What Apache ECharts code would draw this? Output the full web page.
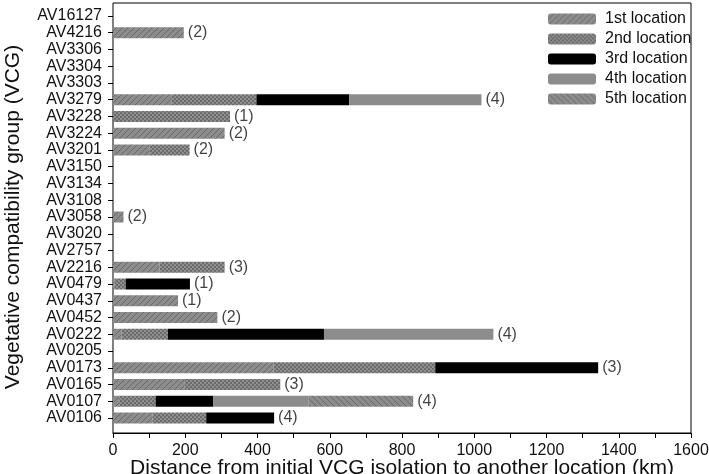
<!DOCTYPE html>
<html>
<head>
<meta charset="utf-8">
<script src="https://cdn.jsdelivr.net/npm/echarts@6/dist/echarts.min.js"></script>
<style>html,body{margin:0;padding:0;background:#fff;}#c{width:709px;height:474px;}</style>
</head>
<body>
<div id="c"></div>
<script>
const categories = ['AV16127','AV4216','AV3306','AV3304','AV3303','AV3279','AV3228','AV3224','AV3201','AV3150','AV3134','AV3108','AV3058','AV3020','AV2757','AV2216','AV0479','AV0437','AV0452','AV0222','AV0205','AV0173','AV0165','AV0107','AV0106'];
const seriesNames = ['1st location','2nd location','3rd location','4th location','5th location'];
const loc1 = [null,196,null,null,null,163,null,309,102,null,null,null,29,null,null,129,5,180,289,24,null,444,199,17,109];
const loc2 = [null,null,null,null,null,234,324,null,110,null,null,null,null,null,null,180,30,null,null,128,null,448,264,101,149];
const loc3 = [null,null,null,null,null,257,null,null,null,null,null,null,null,null,null,null,178,null,null,432,null,451,null,159,188];
const loc4 = [null,null,null,null,null,366,null,null,null,null,null,null,null,null,null,null,null,null,null,469,null,null,null,265,null];
const loc5 = [null,null,null,null,null,null,null,null,null,null,null,null,null,null,null,null,null,null,null,null,null,null,null,289,null];
const counts = [null,2,null,null,null,4,1,2,2,null,null,null,2,null,null,3,1,1,2,4,null,3,3,4,4];
const xTicks = {min:0, max:1600, interval:200};

function pattern(kind){
  const c = document.createElement('canvas');
  const s = 6; c.width = s; c.height = s;
  const g = c.getContext('2d');
  g.fillStyle = '#8c8c8c'; g.fillRect(0,0,s,s);
  g.strokeStyle = '#6a6a6a'; g.lineWidth = 1;
  if (kind === 'fwd') {
    g.beginPath(); g.moveTo(0,s); g.lineTo(s,0); g.moveTo(-1,1); g.lineTo(1,-1); g.moveTo(s-1,s+1); g.lineTo(s+1,s-1); g.stroke();
  } else if (kind === 'back') {
    g.beginPath(); g.moveTo(0,0); g.lineTo(s,s); g.moveTo(s-1,-1); g.lineTo(s+1,1); g.moveTo(-1,s-1); g.lineTo(1,s+1); g.stroke();
  } else if (kind === 'cross') {
    c.width = 4; c.height = 4;
    g.fillStyle = '#8e8e8e'; g.fillRect(0,0,4,4);
    g.fillStyle = '#6c6c6c'; g.fillRect(0,0,2,2); g.fillRect(2,2,2,2);
  }
  return {image: c, repeat: 'repeat'};
}
const colors = [pattern('fwd'), pattern('cross'), '#000000', '#8c8c8c', pattern('back')];
const locs = [loc1, loc2, loc3, loc4, loc5];

const labelData = [];
categories.forEach((cat, i) => {
  if (counts[i] == null) return;
  let t = 0; locs.forEach(a => { t += a[i] || 0; });
  labelData.push({value: [t, cat], count: counts[i]});
});

const font = 'Liberation Sans, Arial, sans-serif';
const chart = echarts.init(document.getElementById('c'));
chart.setOption({
  animation: false,
  backgroundColor: '#fff',
  textStyle: {fontFamily: font},
  grid: [
    {left: 113, right: 18, top: 3, bottom: 41, show: true, borderColor: '#000', borderWidth: 1, backgroundColor: 'transparent', containLabel: false, outerBoundsMode: 'none'},
    {left: 113, right: 18, top: 7.6, bottom: 47.6, containLabel: false, outerBoundsMode: 'none'}
  ],
  legend: {
    orient: 'vertical', left: 548, top: 11, padding: 0,
    itemWidth: 48, itemHeight: 11, itemGap: 4,
    textStyle: {fontSize: 16, color: '#111', fontFamily: font, padding: [0, 0, 0, 4]},
    data: seriesNames
  },
  xAxis: [
    {type: 'value', gridIndex: 0, min: xTicks.min, max: xTicks.max, interval: xTicks.interval,
     name: 'Distance from initial VCG isolation to another location (km)', nameLocation: 'middle', nameGap: 25,
     nameMoveOverlap: false,
     nameTextStyle: {fontSize: 21, color: '#111', fontFamily: font},
     axisLine: {lineStyle: {color: '#000'}},
     axisTick: {show: true, length: 5, lineStyle: {color: '#000'}},
     minorTick: {show: true, splitNumber: 2, length: 5, lineStyle: {color: '#000'}},
     axisLabel: {fontSize: 16, color: '#111', margin: 10, fontFamily: font, formatter: v => String(v)},
     splitLine: {show: false}},
    {type: 'value', gridIndex: 1, min: xTicks.min, max: xTicks.max, show: false, splitLine: {show: false}}
  ],
  yAxis: [
    {type: 'value', gridIndex: 0, show: false, splitLine: {show: false}},
    {type: 'category', gridIndex: 1, data: categories, inverse: true,
     name: 'Vegetative compatibility group (VCG)', nameLocation: 'middle', nameGap: 89, nameRotate: 90,
     nameMoveOverlap: false,
     nameTextStyle: {fontSize: 21, color: '#111', fontFamily: font},
     axisLine: {show: false},
     axisTick: {show: true, alignWithLabel: true, length: 5, lineStyle: {color: '#000'}},
     axisLabel: {fontSize: 16, color: '#111', margin: 11, fontFamily: font, interval: 0},
     splitLine: {show: false}}
  ],
  series: locs.map((arr, k) => ({
    name: seriesNames[k], type: 'bar', stack: 'total', xAxisIndex: 1, yAxisIndex: 1,
    barWidth: 11, data: arr, itemStyle: {color: colors[k]}
  })).concat([{
    type: 'scatter', xAxisIndex: 1, yAxisIndex: 1, symbolSize: 0, data: labelData,
    label: {show: true, position: 'right', distance: 4, fontSize: 16, color: '#111', fontFamily: font,
      formatter: p => '(' + p.data.count + ')'},
    silent: true
  }])
});
</script>
</body>
</html>
